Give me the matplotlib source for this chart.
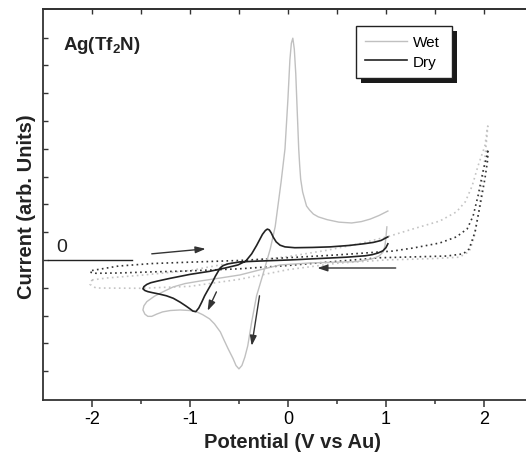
import numpy as np
import matplotlib
matplotlib.use('Agg')
from matplotlib import pyplot as plt
from matplotlib.patches import Rectangle

plt.rcParams['font.family'] = ['Liberation Sans', 'DejaVu Sans']
plt.rcParams['mathtext.fontset'] = 'custom'
plt.rcParams['mathtext.rm'] = 'Liberation Sans'
plt.rcParams['mathtext.bf'] = 'Liberation Sans:bold'
plt.rcParams['axes.unicode_minus'] = False

# Wet CV (solid, light grey)
wet_x = [1.02, 0.93, 0.84, 0.75, 0.65, 0.52, 0.40, 0.31, 0.26, 0.22, 0.19, 0.17, 0.15, 0.13,
         0.12, 0.11, 0.10, 0.09, 0.08, 0.065, 0.05, 0.035, 0.02, 0.00, -0.03, -0.07, -0.10,
         -0.13, -0.18, -0.26, -0.32, -0.37, -0.41, -0.44, -0.47, -0.50, -0.53, -0.56, -0.61,
         -0.65, -0.69, -0.75, -0.80, -0.87, -0.93, -1.00, -1.10, -1.20, -1.28, -1.34, -1.39,
         -1.43, -1.46, -1.48, -1.47, -1.44, -1.40, -1.36, -1.26, -1.17, -1.05, -0.90, -0.69,
         -0.49, -0.29, -0.08, 0.22, 0.50, 0.70, 0.86, 0.93, 0.97, 0.99, 1.00, 1.01]
wet_y = [1.76, 1.60, 1.47, 1.38, 1.33, 1.36, 1.45, 1.55, 1.65, 1.80, 1.94, 2.19, 2.45, 2.91,
         3.40, 4.00, 4.90, 5.79, 6.70, 7.59, 7.98, 7.80, 7.20, 5.79, 4.00, 2.80, 2.00,
         1.20, 0.40, -0.58, -1.29, -2.23, -3.09, -3.50, -3.80, -3.92, -3.80, -3.55, -3.20,
         -2.90, -2.59, -2.30, -2.12, -1.97, -1.87, -1.82, -1.80, -1.82, -1.87, -1.95, -2.03,
         -2.03, -1.95, -1.80, -1.65, -1.50, -1.40, -1.30, -1.12, -0.97, -0.85, -0.76, -0.65,
         -0.54, -0.36, -0.18, -0.11, -0.08, -0.06, 0.04, 0.14, 0.28, 0.50, 0.80, 1.19]

# Dry CV (solid, black)
dry_x = [1.02, 1.00, 0.97, 0.92, 0.86, 0.79, 0.60, 0.43, 0.02, -0.29, -0.49, -0.61, -0.66,
         -0.69, -0.71, -0.74, -0.77, -0.82, -0.85, -0.88, -0.91, -0.94, -0.97, -1.00, -1.04,
         -1.10, -1.17, -1.24, -1.31, -1.38, -1.43, -1.46, -1.48, -1.47, -1.44, -1.40, -1.33,
         -1.20, -1.00, -0.80, -0.64, -0.51, -0.43, -0.37, -0.32, -0.29, -0.26, -0.23, -0.21,
         -0.19, -0.17, -0.15, -0.12, -0.08, -0.03, 0.07, 0.25, 0.43, 0.62, 0.77, 0.87, 0.95,
         1.02]
dry_y = [0.58, 0.44, 0.33, 0.25, 0.19, 0.15, 0.10, 0.07, 0.00, -0.04, -0.07, -0.14, -0.20,
         -0.28, -0.40, -0.58, -0.79, -1.10, -1.29, -1.52, -1.73, -1.86, -1.84, -1.76, -1.66,
         -1.52, -1.38, -1.29, -1.23, -1.18, -1.14, -1.10, -1.04, -0.96, -0.88, -0.82, -0.76,
         -0.66, -0.52, -0.41, -0.29, -0.18, -0.04, 0.22, 0.52, 0.72, 0.92, 1.06, 1.11,
         1.08, 0.97, 0.82, 0.65, 0.53, 0.47, 0.44, 0.45, 0.47, 0.52, 0.58, 0.63, 0.70,
         0.83]

# wide window scans (dotted)
dry_wide_x = [-2.00, -1.73, -1.39, -1.00, -0.50, 0.00, 0.50, 1.07, 1.28, 1.55, 1.72, 1.83, 1.89,
              1.94, 1.99, 2.03, 2.04, 2.04, 2.01, 1.96, 1.91, 1.85, 1.79, 1.62, 1.28, 0.94,
              0.50, 0.00, -0.50, -1.05, -1.39, -1.73, -1.96, -2.01, -2.00]
dry_wide_y = [-0.38, -0.22, -0.13, -0.08, -0.02, 0.08, 0.18, 0.32, 0.43, 0.61, 0.83, 1.12, 1.58,
              2.30, 3.17, 3.74, 3.99, 3.63, 2.91, 1.94, 1.01, 0.40, 0.22, 0.14, 0.11, 0.08,
              -0.05, -0.20, -0.32, -0.40, -0.43, -0.47, -0.48, -0.45, -0.38]
wet_wide_x = [-2.00, -1.85, -1.50, -1.00, -0.60, 0.00, 0.40, 0.75, 1.04, 1.28, 1.55, 1.72, 1.81,
              1.88, 1.94, 2.01, 2.04, 2.02, 1.99, 1.95, 1.90, 1.85, 1.75, 1.50, 1.00, 0.50,
              0.00, -0.50, -1.00, -1.50, -1.96, -2.02, -2.00]
wet_wide_y = [-0.72, -0.65, -0.55, -0.38, -0.12, 0.12, 0.35, 0.60, 0.86, 1.12, 1.40, 1.73, 2.09,
              2.66, 3.38, 4.10, 4.82, 4.00, 3.00, 1.80, 0.80, 0.30, 0.10, 0.05, 0.00, -0.12,
              -0.35, -0.70, -0.95, -1.02, -1.01, -0.88, -0.72]

# zero marker and sweep arrows
zero_x = [-2.45, -1.59]
zero_y = [0, 0]
arrow_start = [(-1.39, 0.22), (1.10, -0.29), (-0.73, -1.15), (-0.29, -1.29)]
arrow_end = [(-0.84, 0.40), (0.30, -0.29), (-0.82, -1.83), (-0.37, -3.09)]

x_major = [-2, -1, 0, 1, 2]
x_minor = [-1.5, -0.5, 0.5, 1.5]
x_top = [-2, -1.5, -1, -0.5, 0, 0.5, 1, 1.5, 2]
y_ticks = [-4, -3, -2, -1, 0, 1, 2, 3, 4, 5, 6, 7, 8]


def main():
    fig = plt.figure(figsize=(5.26, 4.60), dpi=100)
    ax = fig.add_axes([43 / 526, 59 / 460, 483 / 526, 391 / 460])

    ax.plot(wet_wide_x, wet_wide_y, color='#c4c4c4', lw=1.2, ls=(0, (1, 2)))
    ax.plot(dry_wide_x, dry_wide_y, color='#333333', lw=1.2, ls=(0, (1, 2)))
    wet_line, = ax.plot(wet_x, wet_y, color='#c0c0c0', lw=1.0)
    dry_line, = ax.plot(dry_x, dry_y, color='#222222', lw=1.2)

    ax.plot(zero_x, zero_y, color='#222222', lw=1.0)
    ax.text(-2.31, 0.5, '0', fontsize=14, ha='center', va='center', color='#222222')

    for (x0, y0), (x1, y1) in zip(arrow_start, arrow_end):
        ax.annotate('', xy=(x1, y1), xytext=(x0, y0),
                    arrowprops=dict(arrowstyle='-|>,head_length=0.6,head_width=0.2',
                                    color='#333333', lw=1.0, shrinkA=0, shrinkB=0))

    ax.text(0.041, 0.91, r'Ag(Tf$_\mathbf{2}$N)', transform=ax.transAxes, fontsize=13.5,
            fontweight='bold', va='center', ha='left', color='#222222')

    ax.set_xlim(-2.5, 2.43)
    ax.set_ylim(-5.04, 9.03)
    ax.set_xticks(x_major)
    ax.set_xticks(x_minor, minor=True)
    ax.set_yticks(y_ticks)
    ax.set_yticklabels([])
    ax.tick_params(axis='x', which='major', direction='out', length=5, width=1.1,
                   labelsize=13, color='#333333', pad=2)
    ax.tick_params(axis='x', which='minor', direction='out', length=3, width=1.1,
                   color='#333333')
    ax.tick_params(axis='y', direction='in', length=3.5, width=1.0, color='#333333')

    top = ax.secondary_xaxis('top')
    top.set_xticks(x_top)
    top.tick_params(direction='in', length=3.5, width=1.0, labeltop=False, color='#333333')
    top.spines['top'].set_linewidth(1.3)
    top.spines['top'].set_color('#333333')

    ax.spines['right'].set_visible(False)
    for s in ['left', 'bottom', 'top']:
        ax.spines[s].set_linewidth(1.3)
        ax.spines[s].set_color('#333333')

    fig.text(292 / 526, 1 - 443 / 460, 'Potential (V vs Au)', fontsize=14.5,
             fontweight='bold', ha='center', va='center', color='#222222')
    fig.text(27 / 526, 1 - 207 / 460, 'Current (arb. Units)', rotation=90, fontsize=14.5,
             fontweight='bold', ha='center', va='center', color='#222222')

    leg = ax.legend([wet_line, dry_line], ['Wet', 'Dry'], loc='upper left',
                    bbox_to_anchor=(0.648, 0.8235, 0.199, 0.133), mode='expand',
                    borderaxespad=0, fancybox=False, edgecolor='#222222', framealpha=1,
                    fontsize=11, handlelength=2.75, handletextpad=0.35, labelspacing=0.35,
                    borderpad=0.62)
    leg.get_frame().set_linewidth(1.0)

    fig.canvas.draw()
    bb = leg.get_window_extent()
    shadow = Rectangle((bb.x0 + 5, bb.y0 - 5), bb.width, bb.height, transform=None,
                       facecolor='#1a1a1a', edgecolor='none', zorder=leg.get_zorder() - 0.1)
    ax.add_artist(shadow)

    fig.savefig('out.png', dpi=100)
    plt.close(fig)


if __name__ == '__main__':
    main()
